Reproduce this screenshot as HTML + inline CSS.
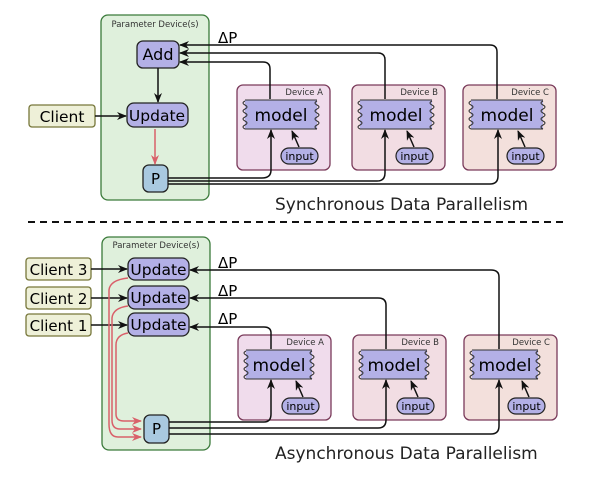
<!DOCTYPE html>
<html><head><style>body{margin:0;background:#fff}svg{display:block}</style></head><body>
<svg width="604" height="478" viewBox="0 0 604 478" xmlns="http://www.w3.org/2000/svg" font-family="'DejaVu Sans','Liberation Sans',sans-serif">
<defs>
<marker id="a" markerWidth="10" markerHeight="8" refX="9" refY="4" orient="auto" markerUnits="userSpaceOnUse"><path d="M0,0 L10,4 L0,8 L3,4z" fill="#111"/></marker>
<marker id="r" markerWidth="10" markerHeight="8" refX="9" refY="4" orient="auto" markerUnits="userSpaceOnUse"><path d="M0,0 L10,4 L0,8 L3,4z" fill="#d9606a"/></marker>
<g id="wv"><path d="M0,0 q-4,2 0,4 q4,2 0,4 q-4,2 0,4 q4,2 0,4 q-4,2 0,4 q4,2 0,4 q-4,2 0,4" fill="none" stroke="#333" stroke-width="1"/></g>
</defs>
<!-- TOP -->
<rect x="101" y="15" width="108" height="185" rx="7" fill="#dff0dc" stroke="#3a7a3a" stroke-width="1.3"/>
<text x="155" y="27" font-size="8.5" text-anchor="middle" fill="#333">Parameter Device(s)</text>
<rect x="137" y="41" width="42" height="27" rx="6" fill="#b3b0e6" stroke="#222" stroke-width="1.3"/>
<text x="158" y="60" font-size="16" text-anchor="middle">Add</text>
<rect x="127" y="103" width="61" height="24" rx="7" fill="#b3b0e6" stroke="#222" stroke-width="1.3"/>
<text x="157" y="121" font-size="15.5" text-anchor="middle">Update</text>
<rect x="143" y="165" width="25" height="27" rx="6" fill="#a9c9e0" stroke="#222" stroke-width="1.3"/>
<text x="155.5" y="184" font-size="15" text-anchor="middle">P</text>
<rect x="29" y="105" width="66" height="22" rx="3" fill="#eef0d8" stroke="#77773a" stroke-width="1.3"/>
<text x="62" y="122" font-size="15.5" text-anchor="middle">Client</text>
<line x1="95" y1="116" x2="126" y2="116" stroke="#111" stroke-width="1.5" marker-end="url(#a)"/>
<line x1="158" y1="68" x2="158" y2="102" stroke="#111" stroke-width="1.5" marker-end="url(#a)"/>
<line x1="155" y1="129" x2="155" y2="164" stroke="#d9606a" stroke-width="1.5" marker-end="url(#r)"/>
<text x="218" y="43" font-size="15">ΔP</text>
<!-- devices top -->
<g>
<rect x="237" y="85" width="93" height="85" rx="6" fill="#f0dcec" stroke="#7a3a5a" stroke-width="1.3"/>
<text x="323" y="95" font-size="8.5" text-anchor="end" fill="#333">Device A</text>
<rect x="245" y="100" width="72" height="29" fill="#b3b0e6"/>
<line x1="245" y1="100" x2="317" y2="100" stroke="#333"/><line x1="245" y1="129" x2="317" y2="129" stroke="#333"/>
<use href="#wv" x="245" y="101"/><use href="#wv" x="317" y="101"/>
<text x="281" y="121" font-size="17" text-anchor="middle">model</text>
<rect x="281" y="148" width="37" height="16" rx="8" fill="#b3b0e6" stroke="#222" stroke-width="1.2"/>
<text x="299.5" y="160" font-size="11" text-anchor="middle">input</text>
<line x1="299" y1="147" x2="292" y2="131" stroke="#111" stroke-width="1.5" marker-end="url(#a)"/>
</g>
<g transform="translate(115,0)"><rect x="237" y="85" width="93" height="85" rx="6" fill="#f2dde3" stroke="#7a3a5a" stroke-width="1.3"/>
<text x="323" y="95" font-size="8.5" text-anchor="end" fill="#333">Device B</text>
<rect x="245" y="100" width="72" height="29" fill="#b3b0e6"/>
<line x1="245" y1="100" x2="317" y2="100" stroke="#333"/><line x1="245" y1="129" x2="317" y2="129" stroke="#333"/>
<use href="#wv" x="245" y="101"/><use href="#wv" x="317" y="101"/>
<text x="281" y="121" font-size="17" text-anchor="middle">model</text>
<rect x="281" y="148" width="37" height="16" rx="8" fill="#b3b0e6" stroke="#222" stroke-width="1.2"/>
<text x="299.5" y="160" font-size="11" text-anchor="middle">input</text>
<line x1="299" y1="147" x2="292" y2="131" stroke="#111" stroke-width="1.5" marker-end="url(#a)"/></g>
<g transform="translate(226,0)"><rect x="237" y="85" width="93" height="85" rx="6" fill="#f3e0dc" stroke="#7a3a5a" stroke-width="1.3"/>
<text x="323" y="95" font-size="8.5" text-anchor="end" fill="#333">Device C</text>
<rect x="245" y="100" width="72" height="29" fill="#b3b0e6"/>
<line x1="245" y1="100" x2="317" y2="100" stroke="#333"/><line x1="245" y1="129" x2="317" y2="129" stroke="#333"/>
<use href="#wv" x="245" y="101"/><use href="#wv" x="317" y="101"/>
<text x="281" y="121" font-size="17" text-anchor="middle">model</text>
<rect x="281" y="148" width="37" height="16" rx="8" fill="#b3b0e6" stroke="#222" stroke-width="1.2"/>
<text x="299.5" y="160" font-size="11" text-anchor="middle">input</text>
<line x1="299" y1="147" x2="292" y2="131" stroke="#111" stroke-width="1.5" marker-end="url(#a)"/></g>
<g fill="none" stroke="#111" stroke-width="1.5">
<path d="M497,99 V52 Q497,45 490,45 H180" marker-end="url(#a)"/>
<path d="M385,99 V60 Q385,53 378,53 H180" marker-end="url(#a)"/>
<path d="M270,99 V69 Q270,62 263,62 H180" marker-end="url(#a)"/>
<path d="M168,178 H262 Q271,178 271,170 V130" marker-end="url(#a)"/>
<path d="M168,181 H377 Q385,181 385,173 V130" marker-end="url(#a)"/>
<path d="M168,184 H490 Q498,184 498,176 V130" marker-end="url(#a)"/>
</g>
<text x="275" y="210" font-size="17" fill="#222">Synchronous Data Parallelism</text>
<line x1="28" y1="222" x2="566" y2="222" stroke="#111" stroke-width="2" stroke-dasharray="7,5"/>
<!-- BOTTOM -->
<rect x="102" y="237" width="108" height="213" rx="7" fill="#dff0dc" stroke="#3a7a3a" stroke-width="1.3"/>
<text x="156" y="248" font-size="8.5" text-anchor="middle" fill="#333">Parameter Device(s)</text>
<g fill="#eef0d8" stroke="#77773a" stroke-width="1.3">
<rect x="26" y="258" width="65" height="22" rx="3"/><rect x="26" y="287" width="65" height="22" rx="3"/><rect x="26" y="314" width="65" height="22" rx="3"/></g>
<g font-size="15" text-anchor="middle"><text x="58.5" y="275">Client 3</text><text x="58.5" y="304">Client 2</text><text x="58.5" y="331">Client 1</text></g>
<g fill="#b3b0e6" stroke="#222" stroke-width="1.3">
<rect x="128" y="258" width="61" height="22" rx="7"/><rect x="128" y="286" width="61" height="23" rx="7"/><rect x="128" y="313" width="61" height="23" rx="7"/></g>
<g font-size="15.5" text-anchor="middle"><text x="158.5" y="275">Update</text><text x="158.5" y="303">Update</text><text x="158.5" y="330">Update</text></g>
<g stroke="#111" stroke-width="1.5"><line x1="91" y1="269" x2="127" y2="269" marker-end="url(#a)"/><line x1="91" y1="298" x2="127" y2="298" marker-end="url(#a)"/><line x1="91" y1="325" x2="127" y2="325" marker-end="url(#a)"/></g>
<g fill="none" stroke="#d9606a" stroke-width="1.5">
<path d="M128,278 Q110,280 109,290 V424 Q109,437 118,437 H141" marker-end="url(#r)"/>
<path d="M128,306 Q113,308 112,318 V420 Q112,429 120,429 H141" marker-end="url(#r)"/>
<path d="M128,333 Q116,335 116,345 V414 Q116,421 124,421 H141" marker-end="url(#r)"/>
</g>
<rect x="144" y="415" width="25" height="28" rx="6" fill="#a9c9e0" stroke="#222" stroke-width="1.3"/>
<text x="156.5" y="434" font-size="15" text-anchor="middle">P</text>
<g font-size="15"><text x="218" y="268">ΔP</text><text x="218" y="296">ΔP</text><text x="218" y="324">ΔP</text></g>
<g transform="translate(1,250)"><rect x="237" y="85" width="93" height="85" rx="6" fill="#f0dcec" stroke="#7a3a5a" stroke-width="1.3"/>
<text x="323" y="95" font-size="8.5" text-anchor="end" fill="#333">Device A</text>
<rect x="245" y="100" width="66" height="29" fill="#b3b0e6"/>
<line x1="245" y1="100" x2="311" y2="100" stroke="#333"/><line x1="245" y1="129" x2="311" y2="129" stroke="#333"/>
<use href="#wv" x="245" y="101"/><use href="#wv" x="311" y="101"/>
<text x="278" y="121" font-size="17" text-anchor="middle">model</text>
<rect x="281" y="148" width="37" height="16" rx="8" fill="#b3b0e6" stroke="#222" stroke-width="1.2"/>
<text x="299.5" y="160" font-size="11" text-anchor="middle">input</text>
<line x1="302" y1="147" x2="295" y2="131" stroke="#111" stroke-width="1.5" marker-end="url(#a)"/></g>
<g transform="translate(116,250)"><rect x="237" y="85" width="93" height="85" rx="6" fill="#f2dde3" stroke="#7a3a5a" stroke-width="1.3"/>
<text x="323" y="95" font-size="8.5" text-anchor="end" fill="#333">Device B</text>
<rect x="245" y="100" width="66" height="29" fill="#b3b0e6"/>
<line x1="245" y1="100" x2="311" y2="100" stroke="#333"/><line x1="245" y1="129" x2="311" y2="129" stroke="#333"/>
<use href="#wv" x="245" y="101"/><use href="#wv" x="311" y="101"/>
<text x="278" y="121" font-size="17" text-anchor="middle">model</text>
<rect x="281" y="148" width="37" height="16" rx="8" fill="#b3b0e6" stroke="#222" stroke-width="1.2"/>
<text x="299.5" y="160" font-size="11" text-anchor="middle">input</text>
<line x1="302" y1="147" x2="295" y2="131" stroke="#111" stroke-width="1.5" marker-end="url(#a)"/></g>
<g transform="translate(227,250)"><rect x="237" y="85" width="93" height="85" rx="6" fill="#f3e0dc" stroke="#7a3a5a" stroke-width="1.3"/>
<text x="323" y="95" font-size="8.5" text-anchor="end" fill="#333">Device C</text>
<rect x="245" y="100" width="66" height="29" fill="#b3b0e6"/>
<line x1="245" y1="100" x2="311" y2="100" stroke="#333"/><line x1="245" y1="129" x2="311" y2="129" stroke="#333"/>
<use href="#wv" x="245" y="101"/><use href="#wv" x="311" y="101"/>
<text x="278" y="121" font-size="17" text-anchor="middle">model</text>
<rect x="281" y="148" width="37" height="16" rx="8" fill="#b3b0e6" stroke="#222" stroke-width="1.2"/>
<text x="299.5" y="160" font-size="11" text-anchor="middle">input</text>
<line x1="302" y1="147" x2="295" y2="131" stroke="#111" stroke-width="1.5" marker-end="url(#a)"/></g>
<g fill="none" stroke="#111" stroke-width="1.5">
<path d="M499,349 V277 Q499,270 491,270 H190" marker-end="url(#a)"/>
<path d="M386,349 V305 Q386,298 378,298 H190" marker-end="url(#a)"/>
<path d="M271,349 V333 Q271,327 264,327 H190" marker-end="url(#a)"/>
<path d="M169,422 H264 Q271,422 271,414 V380" marker-end="url(#a)"/>
<path d="M169,428 H378 Q386,428 386,420 V380" marker-end="url(#a)"/>
<path d="M169,434 H491 Q499,434 499,426 V380" marker-end="url(#a)"/>
</g>
<text x="275" y="459" font-size="17" fill="#222">Asynchronous Data Parallelism</text>
</svg>
</body></html>
